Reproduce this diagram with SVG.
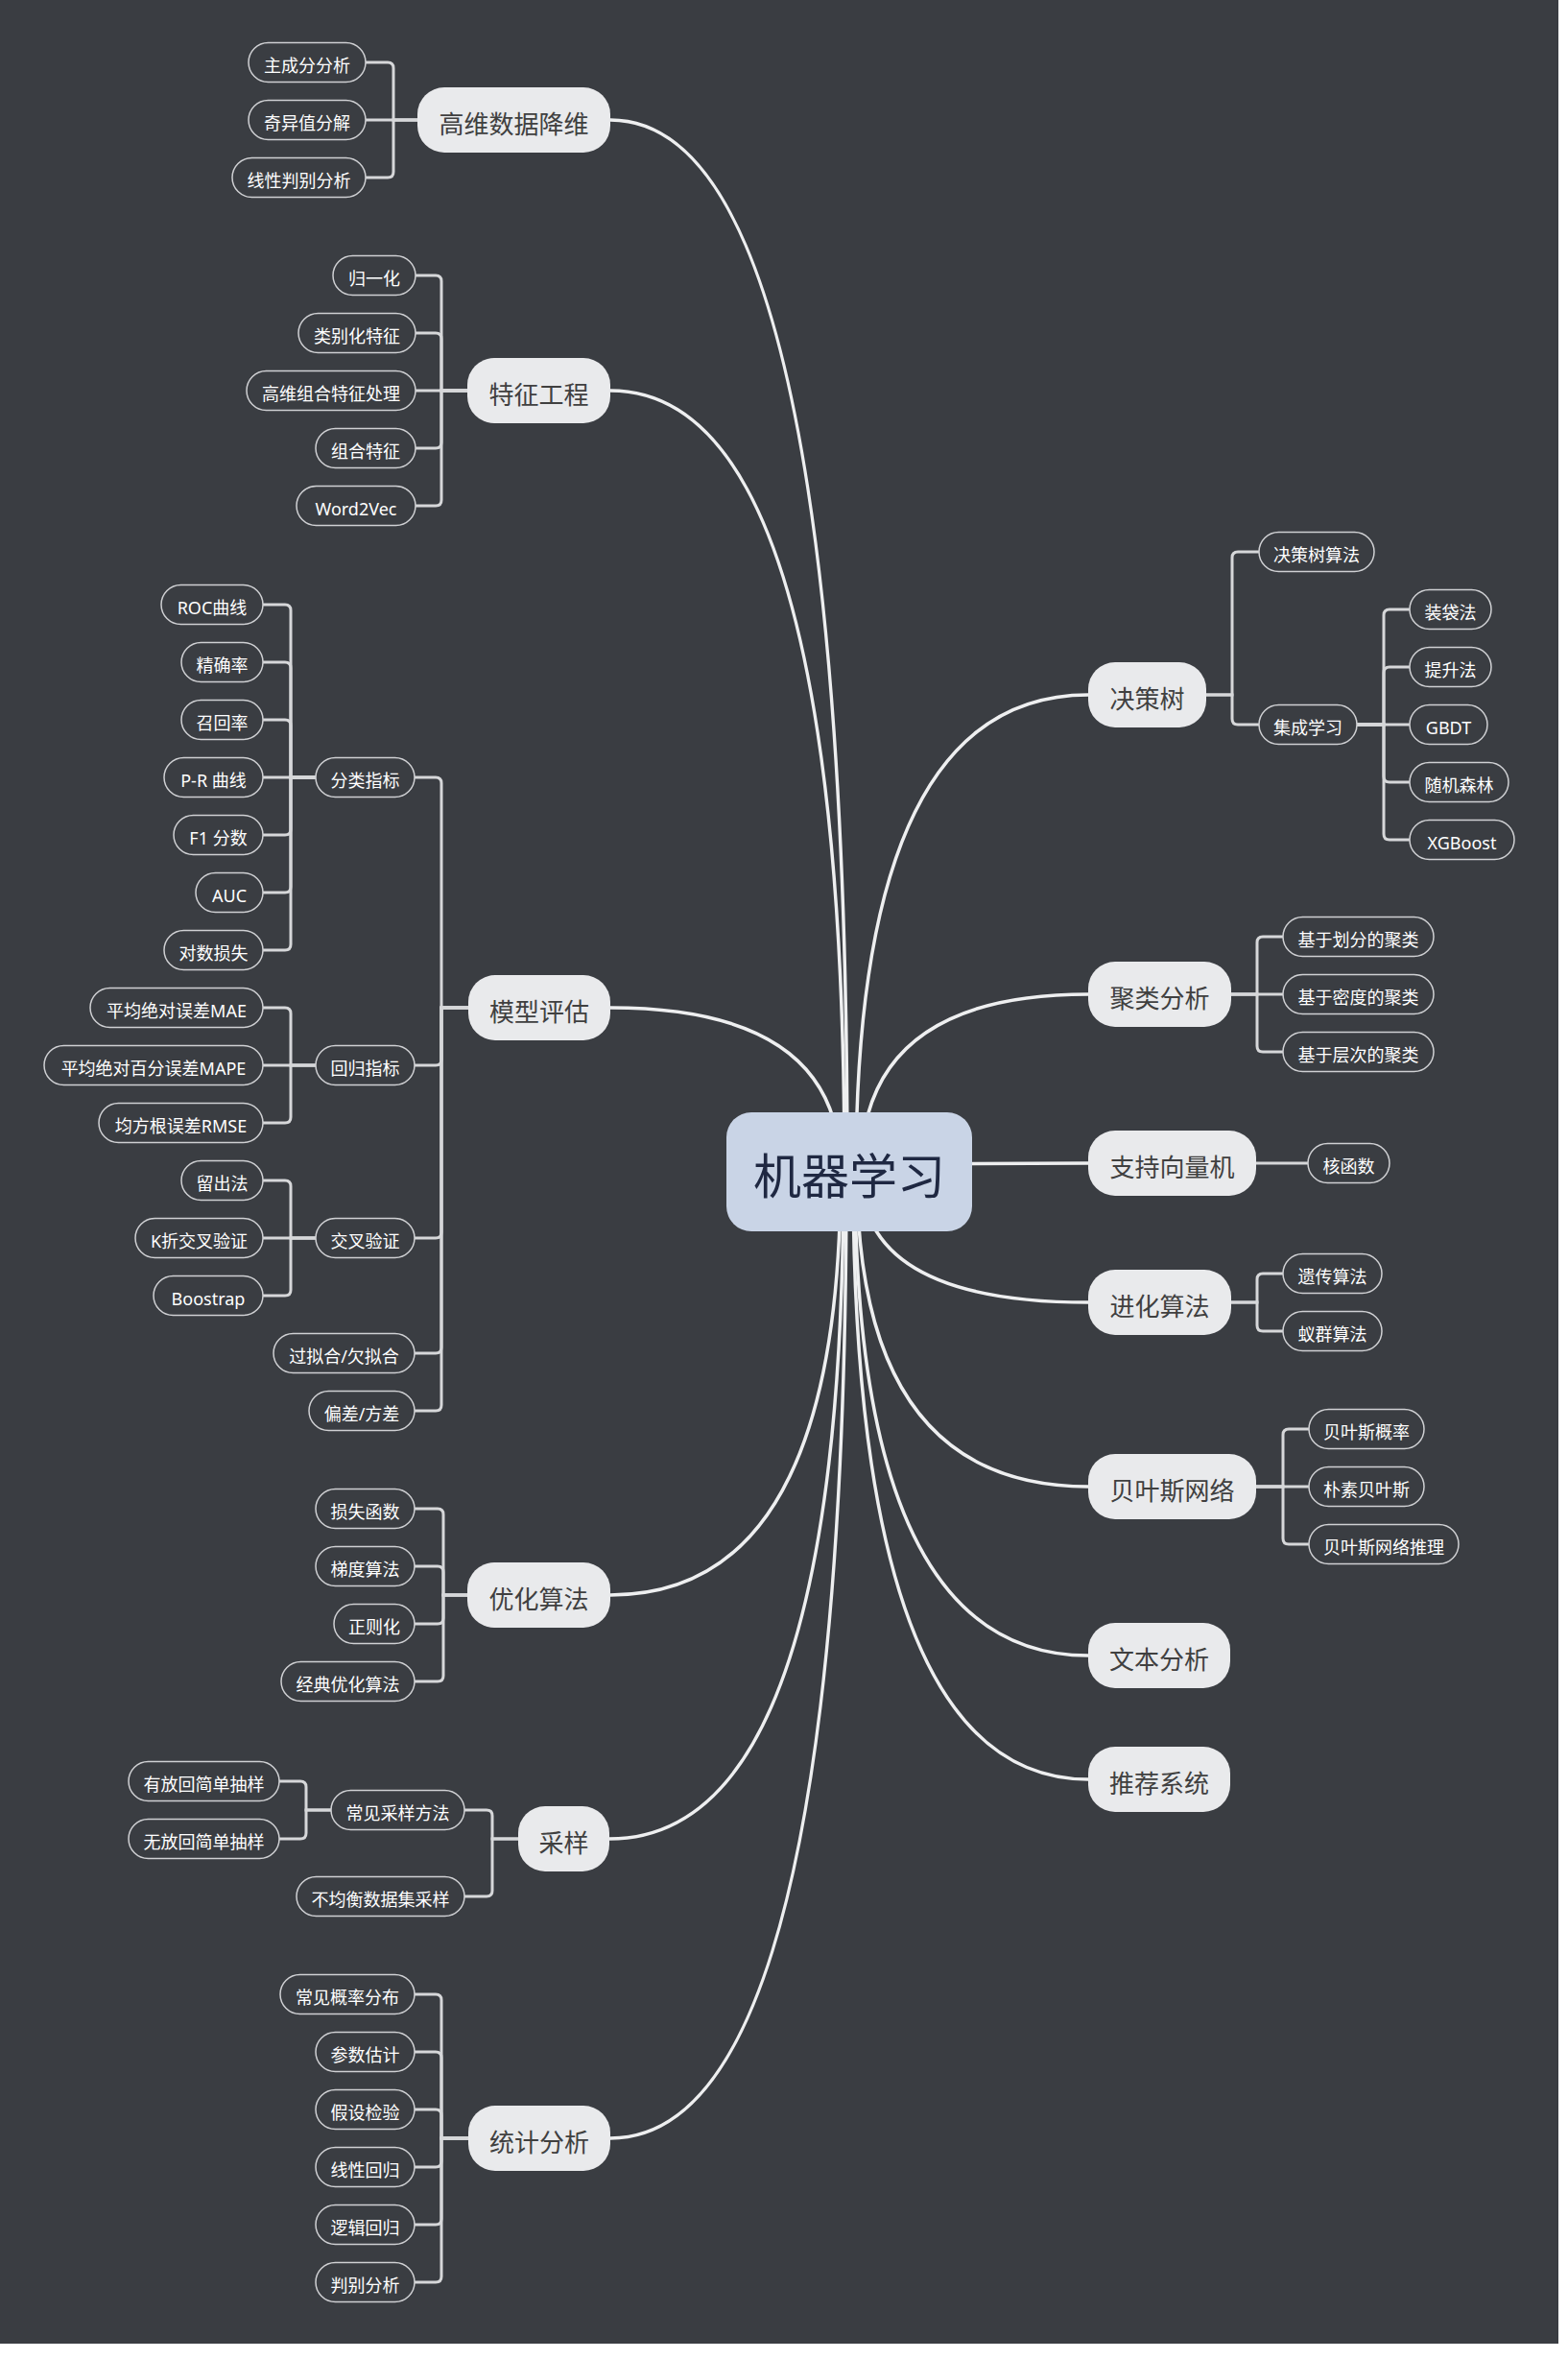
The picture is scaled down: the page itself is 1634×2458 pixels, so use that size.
<svg xmlns="http://www.w3.org/2000/svg" width="1634" height="2458" viewBox="0 0 1634 2458">
  <style>
    text { font-family: "Noto Sans", "Noto Sans CJK SC", sans-serif; text-anchor: middle; dominant-baseline: central; }
    .root rect { fill: #c9d4e6; }
    .root text { fill: #1f2842; font-size: 50px; transform: translateY(3.5px); }
    .main rect { fill: #e9eaec; }
    .main text { fill: #404040; font-size: 26px; transform: translateY(3.5px); }
    .leaf rect { fill: none; stroke: #cfd0d3; stroke-width: 1.5; }
    .leaf text { fill: #ffffff; font-size: 18px; transform: translateY(3px); }
    .curve { fill: none; stroke: #eeeff0; stroke-width: 3.5; stroke-linecap: round; }
    .elbow { fill: none; stroke: #d6d7d9; stroke-width: 3; }
  </style>

  <rect x="0" y="0" width="1634" height="2458" fill="#ffffff"/>
  <rect x="0" y="0" width="1624" height="2442" fill="#3a3d42"/>

  <!-- connectors -->
  <g id="connectors">
    <!-- curves from the central topic -->
    <path class="curve" d="M636 125 Q883 125 883 1221"/>
    <path class="curve" d="M636 407 Q880 407 880 1221"/>
    <path class="curve" d="M636 1050 Q876 1050 876 1221"/>
    <path class="curve" d="M636 1662 Q876 1662 876 1221"/>
    <path class="curve" d="M635 1916 Q879 1916 879 1221"/>
    <path class="curve" d="M636 2228 Q882 2228 882 1221"/>
    <path class="curve" d="M1134 724 Q892 724 892 1221"/>
    <path class="curve" d="M1134 1036 Q897 1036 897 1221"/>
    <path class="curve" d="M885 1213 L1134 1212"/>
    <path class="curve" d="M1134 1357 Q897 1357 897 1221"/>
    <path class="curve" d="M1134 1549 Q893 1549 893 1221"/>
    <path class="curve" d="M1134 1725 Q891 1725 891 1221"/>
    <path class="curve" d="M1134 1854 Q889 1854 889 1221"/>

    <!-- 高维数据降维 -->
    <path class="elbow" d="M435 125 H410 V71 Q410 65 404 65 H381"/>
    <path class="elbow" d="M435 125 H381"/>
    <path class="elbow" d="M435 125 H410 V179 Q410 185 404 185 H381"/>

    <!-- 特征工程 -->
    <path class="elbow" d="M487 407 H460 V293 Q460 287 454 287 H433"/>
    <path class="elbow" d="M487 407 H460 V353 Q460 347 454 347 H433"/>
    <path class="elbow" d="M487 407 H433"/>
    <path class="elbow" d="M487 407 H460 V461 Q460 467 454 467 H433"/>
    <path class="elbow" d="M487 407 H460 V521 Q460 527 454 527 H433"/>

    <!-- 模型评估 -->
    <path class="elbow" d="M488 1050 H460 V816 Q460 810 454 810 H432"/>
    <path class="elbow" d="M488 1050 H460 V1104 Q460 1110 454 1110 H432"/>
    <path class="elbow" d="M488 1050 H460 V1284 Q460 1290 454 1290 H432"/>
    <path class="elbow" d="M488 1050 H460 V1404 Q460 1410 454 1410 H432"/>
    <path class="elbow" d="M488 1050 H460 V1464 Q460 1470 454 1470 H432"/>

    <!-- 分类指标 -->
    <path class="elbow" d="M329 810 H303 V636 Q303 630 297 630 H274"/>
    <path class="elbow" d="M329 810 H303 V696 Q303 690 297 690 H274"/>
    <path class="elbow" d="M329 810 H303 V756 Q303 750 297 750 H274"/>
    <path class="elbow" d="M329 810 H274"/>
    <path class="elbow" d="M329 810 H303 V864 Q303 870 297 870 H274"/>
    <path class="elbow" d="M329 810 H303 V924 Q303 930 297 930 H274"/>
    <path class="elbow" d="M329 810 H303 V984 Q303 990 297 990 H274"/>

    <!-- 回归指标 -->
    <path class="elbow" d="M329 1110 H303 V1056 Q303 1050 297 1050 H274"/>
    <path class="elbow" d="M329 1110 H274"/>
    <path class="elbow" d="M329 1110 H303 V1164 Q303 1170 297 1170 H274"/>

    <!-- 交叉验证 -->
    <path class="elbow" d="M329 1290 H303 V1236 Q303 1230 297 1230 H274"/>
    <path class="elbow" d="M329 1290 H274"/>
    <path class="elbow" d="M329 1290 H303 V1344 Q303 1350 297 1350 H274"/>

    <!-- 优化算法 -->
    <path class="elbow" d="M487 1662 H462 V1578 Q462 1572 456 1572 H432"/>
    <path class="elbow" d="M487 1662 H462 V1638 Q462 1632 456 1632 H432"/>
    <path class="elbow" d="M487 1662 H462 V1686 Q462 1692 456 1692 H432"/>
    <path class="elbow" d="M487 1662 H462 V1746 Q462 1752 456 1752 H432"/>

    <!-- 采样 -->
    <path class="elbow" d="M540 1916 H513 V1892 Q513 1886 507 1886 H484"/>
    <path class="elbow" d="M540 1916 H513 V1970 Q513 1976 507 1976 H484"/>
    <path class="elbow" d="M345 1886 H319 V1862 Q319 1856 313 1856 H291"/>
    <path class="elbow" d="M345 1886 H319 V1910 Q319 1916 313 1916 H291"/>

    <!-- 统计分析 -->
    <path class="elbow" d="M488 2228 H460 V2084 Q460 2078 454 2078 H432"/>
    <path class="elbow" d="M488 2228 H460 V2144 Q460 2138 454 2138 H432"/>
    <path class="elbow" d="M488 2228 H460 V2204 Q460 2198 454 2198 H432"/>
    <path class="elbow" d="M488 2228 H460 V2252 Q460 2258 454 2258 H432"/>
    <path class="elbow" d="M488 2228 H460 V2312 Q460 2318 454 2318 H432"/>
    <path class="elbow" d="M488 2228 H460 V2372 Q460 2378 454 2378 H432"/>

    <!-- 决策树 -->
    <path class="elbow" d="M1257 724 H1284 V581 Q1284 575 1290 575 H1312"/>
    <path class="elbow" d="M1257 724 H1284 V749 Q1284 755 1290 755 H1312"/>
    <path class="elbow" d="M1414 755 H1442 V641 Q1442 635 1448 635 H1469"/>
    <path class="elbow" d="M1414 755 H1442 V701 Q1442 695 1448 695 H1469"/>
    <path class="elbow" d="M1414 755 H1469"/>
    <path class="elbow" d="M1414 755 H1442 V809 Q1442 815 1448 815 H1469"/>
    <path class="elbow" d="M1414 755 H1442 V869 Q1442 875 1448 875 H1469"/>

    <!-- 聚类分析 -->
    <path class="elbow" d="M1283 1036 H1310 V982 Q1310 976 1316 976 H1337"/>
    <path class="elbow" d="M1283 1036 H1337"/>
    <path class="elbow" d="M1283 1036 H1310 V1090 Q1310 1096 1316 1096 H1337"/>

    <!-- 支持向量机 -->
    <path class="elbow" d="M1309 1212 H1363"/>

    <!-- 进化算法 -->
    <path class="elbow" d="M1283 1357 H1310 V1333 Q1310 1327 1316 1327 H1337"/>
    <path class="elbow" d="M1283 1357 H1310 V1381 Q1310 1387 1316 1387 H1337"/>

    <!-- 贝叶斯网络 -->
    <path class="elbow" d="M1309 1549 H1337 V1495 Q1337 1489 1343 1489 H1364"/>
    <path class="elbow" d="M1309 1549 H1364"/>
    <path class="elbow" d="M1309 1549 H1337 V1603 Q1337 1609 1343 1609 H1364"/>
  </g>

  <!-- central topic -->
  <g id="root" class="root">
    <rect x="757" y="1159" width="256" height="124" rx="26"/>
    <text x="885" y="1221">机器学习</text>
  </g>

  <!-- main topics -->
  <g id="n-gaowei" class="main"><rect x="435" y="91" width="201" height="68" rx="28"/><text x="535.5" y="125">高维数据降维</text></g>
  <g id="n-tezheng" class="main"><rect x="487" y="373" width="149" height="68" rx="28"/><text x="561.5" y="407">特征工程</text></g>
  <g id="n-moxing" class="main"><rect x="488" y="1016" width="148" height="68" rx="28"/><text x="562" y="1050">模型评估</text></g>
  <g id="n-youhua" class="main"><rect x="487" y="1628" width="149" height="68" rx="28"/><text x="561.5" y="1662">优化算法</text></g>
  <g id="n-caiyang" class="main"><rect x="540" y="1882" width="95" height="68" rx="28"/><text x="587.5" y="1916">采样</text></g>
  <g id="n-tongji" class="main"><rect x="488" y="2194" width="148" height="68" rx="28"/><text x="562" y="2228">统计分析</text></g>
  <g id="n-jueceshu" class="main"><rect x="1134" y="690" width="123" height="68" rx="28"/><text x="1195.5" y="724">决策树</text></g>
  <g id="n-julei" class="main"><rect x="1134" y="1002" width="149" height="68" rx="28"/><text x="1208.5" y="1036">聚类分析</text></g>
  <g id="n-svm" class="main"><rect x="1134" y="1178" width="175" height="68" rx="28"/><text x="1221.5" y="1212">支持向量机</text></g>
  <g id="n-jinhua" class="main"><rect x="1134" y="1323" width="149" height="68" rx="28"/><text x="1208.5" y="1357">进化算法</text></g>
  <g id="n-beiyesi" class="main"><rect x="1134" y="1515" width="175" height="68" rx="28"/><text x="1221.5" y="1549">贝叶斯网络</text></g>
  <g id="n-wenben" class="main"><rect x="1134" y="1691" width="148" height="68" rx="28"/><text x="1208" y="1725">文本分析</text></g>
  <g id="n-tuijian" class="main"><rect x="1134" y="1820" width="148" height="68" rx="28"/><text x="1208" y="1854">推荐系统</text></g>

  <!-- subtopics -->
  <g id="l-pca" class="leaf"><rect x="259" y="44.5" width="122" height="41" rx="20.5"/><text x="320" y="65">主成分分析</text></g>
  <g id="l-svd" class="leaf"><rect x="259" y="104.5" width="122" height="41" rx="20.5"/><text x="320" y="125">奇异值分解</text></g>
  <g id="l-lda" class="leaf"><rect x="242" y="164.5" width="139" height="41" rx="20.5"/><text x="311.5" y="185">线性判别分析</text></g>

  <g id="l-norm" class="leaf"><rect x="347" y="266.5" width="86" height="41" rx="20.5"/><text x="390" y="287">归一化</text></g>
  <g id="l-cat" class="leaf"><rect x="311" y="326.5" width="122" height="41" rx="20.5"/><text x="372" y="347">类别化特征</text></g>
  <g id="l-highcomb" class="leaf"><rect x="257" y="386.5" width="176" height="41" rx="20.5"/><text x="345" y="407">高维组合特征处理</text></g>
  <g id="l-comb" class="leaf"><rect x="329" y="446.5" width="104" height="41" rx="20.5"/><text x="381" y="467">组合特征</text></g>
  <g id="l-w2v" class="leaf"><rect x="309" y="506.5" width="124" height="41" rx="20.5"/><text x="371" y="527">Word2Vec</text></g>

  <g id="l-cls" class="leaf"><rect x="329" y="789.5" width="103" height="41" rx="20.5"/><text x="380.5" y="810">分类指标</text></g>
  <g id="l-reg" class="leaf"><rect x="329" y="1089.5" width="103" height="41" rx="20.5"/><text x="380.5" y="1110">回归指标</text></g>
  <g id="l-cv" class="leaf"><rect x="329" y="1269.5" width="103" height="41" rx="20.5"/><text x="380.5" y="1290">交叉验证</text></g>
  <g id="l-fit" class="leaf"><rect x="285" y="1389.5" width="147" height="41" rx="20.5"/><text x="358.5" y="1410">过拟合/欠拟合</text></g>
  <g id="l-bias" class="leaf"><rect x="322" y="1449.5" width="110" height="41" rx="20.5"/><text x="377" y="1470">偏差/方差</text></g>

  <g id="l-roc" class="leaf"><rect x="168" y="609.5" width="106" height="41" rx="20.5"/><text x="221" y="630">ROC曲线</text></g>
  <g id="l-prec" class="leaf"><rect x="189" y="669.5" width="85" height="41" rx="20.5"/><text x="231.5" y="690">精确率</text></g>
  <g id="l-rec" class="leaf"><rect x="189" y="729.5" width="85" height="41" rx="20.5"/><text x="231.5" y="750">召回率</text></g>
  <g id="l-pr" class="leaf"><rect x="171" y="789.5" width="103" height="41" rx="20.5"/><text x="222.5" y="810">P-R 曲线</text></g>
  <g id="l-f1" class="leaf"><rect x="181" y="849.5" width="93" height="41" rx="20.5"/><text x="227.5" y="870">F1 分数</text></g>
  <g id="l-auc" class="leaf"><rect x="204" y="909.5" width="70" height="41" rx="20.5"/><text x="239" y="930">AUC</text></g>
  <g id="l-logloss" class="leaf"><rect x="171" y="969.5" width="103" height="41" rx="20.5"/><text x="222.5" y="990">对数损失</text></g>

  <g id="l-mae" class="leaf"><rect x="94" y="1029.5" width="180" height="41" rx="20.5"/><text x="184" y="1050">平均绝对误差MAE</text></g>
  <g id="l-mape" class="leaf"><rect x="46" y="1089.5" width="228" height="41" rx="20.5"/><text x="160" y="1110">平均绝对百分误差MAPE</text></g>
  <g id="l-rmse" class="leaf"><rect x="103" y="1149.5" width="171" height="41" rx="20.5"/><text x="188.5" y="1170">均方根误差RMSE</text></g>

  <g id="l-holdout" class="leaf"><rect x="189" y="1209.5" width="85" height="41" rx="20.5"/><text x="231.5" y="1230">留出法</text></g>
  <g id="l-kfold" class="leaf"><rect x="141" y="1269.5" width="133" height="41" rx="20.5"/><text x="207.5" y="1290">K折交叉验证</text></g>
  <g id="l-boot" class="leaf"><rect x="160" y="1329.5" width="114" height="41" rx="20.5"/><text x="217" y="1350">Boostrap</text></g>

  <g id="l-loss" class="leaf"><rect x="329" y="1551.5" width="103" height="41" rx="20.5"/><text x="380.5" y="1572">损失函数</text></g>
  <g id="l-grad" class="leaf"><rect x="329" y="1611.5" width="103" height="41" rx="20.5"/><text x="380.5" y="1632">梯度算法</text></g>
  <g id="l-regu" class="leaf"><rect x="348" y="1671.5" width="84" height="41" rx="20.5"/><text x="390" y="1692">正则化</text></g>
  <g id="l-classic" class="leaf"><rect x="293" y="1731.5" width="139" height="41" rx="20.5"/><text x="362.5" y="1752">经典优化算法</text></g>

  <g id="l-common" class="leaf"><rect x="345" y="1865.5" width="139" height="41" rx="20.5"/><text x="414.5" y="1886">常见采样方法</text></g>
  <g id="l-imb" class="leaf"><rect x="309" y="1955.5" width="175" height="41" rx="20.5"/><text x="396.5" y="1976">不均衡数据集采样</text></g>
  <g id="l-withrep" class="leaf"><rect x="134" y="1835.5" width="157" height="41" rx="20.5"/><text x="212.5" y="1856">有放回简单抽样</text></g>
  <g id="l-worep" class="leaf"><rect x="134" y="1895.5" width="157" height="41" rx="20.5"/><text x="212.5" y="1916">无放回简单抽样</text></g>

  <g id="l-dist" class="leaf"><rect x="292" y="2057.5" width="140" height="41" rx="20.5"/><text x="362" y="2078">常见概率分布</text></g>
  <g id="l-est" class="leaf"><rect x="329" y="2117.5" width="103" height="41" rx="20.5"/><text x="380.5" y="2138">参数估计</text></g>
  <g id="l-test" class="leaf"><rect x="329" y="2177.5" width="103" height="41" rx="20.5"/><text x="380.5" y="2198">假设检验</text></g>
  <g id="l-linreg" class="leaf"><rect x="329" y="2237.5" width="103" height="41" rx="20.5"/><text x="380.5" y="2258">线性回归</text></g>
  <g id="l-logreg" class="leaf"><rect x="329" y="2297.5" width="103" height="41" rx="20.5"/><text x="380.5" y="2318">逻辑回归</text></g>
  <g id="l-disc" class="leaf"><rect x="329" y="2357.5" width="103" height="41" rx="20.5"/><text x="380.5" y="2378">判别分析</text></g>

  <g id="l-dtalg" class="leaf"><rect x="1312" y="554.5" width="120" height="41" rx="20.5"/><text x="1372" y="575">决策树算法</text></g>
  <g id="l-ens" class="leaf"><rect x="1312" y="734.5" width="102" height="41" rx="20.5"/><text x="1363" y="755">集成学习</text></g>
  <g id="l-bag" class="leaf"><rect x="1469" y="614.5" width="85" height="41" rx="20.5"/><text x="1511.5" y="635">装袋法</text></g>
  <g id="l-boost" class="leaf"><rect x="1469" y="674.5" width="85" height="41" rx="20.5"/><text x="1511.5" y="695">提升法</text></g>
  <g id="l-gbdt" class="leaf"><rect x="1469" y="734.5" width="81" height="41" rx="20.5"/><text x="1509.5" y="755">GBDT</text></g>
  <g id="l-rf" class="leaf"><rect x="1469" y="794.5" width="103" height="41" rx="20.5"/><text x="1520.5" y="815">随机森林</text></g>
  <g id="l-xgb" class="leaf"><rect x="1469" y="854.5" width="109" height="41" rx="20.5"/><text x="1523.5" y="875">XGBoost</text></g>

  <g id="l-part" class="leaf"><rect x="1337" y="955.5" width="157" height="41" rx="20.5"/><text x="1415.5" y="976">基于划分的聚类</text></g>
  <g id="l-dens" class="leaf"><rect x="1337" y="1015.5" width="157" height="41" rx="20.5"/><text x="1415.5" y="1036">基于密度的聚类</text></g>
  <g id="l-hier" class="leaf"><rect x="1337" y="1075.5" width="157" height="41" rx="20.5"/><text x="1415.5" y="1096">基于层次的聚类</text></g>

  <g id="l-kernel" class="leaf"><rect x="1363" y="1191.5" width="85" height="41" rx="20.5"/><text x="1405.5" y="1212">核函数</text></g>

  <g id="l-ga" class="leaf"><rect x="1337" y="1306.5" width="103" height="41" rx="20.5"/><text x="1388.5" y="1327">遗传算法</text></g>
  <g id="l-aco" class="leaf"><rect x="1337" y="1366.5" width="103" height="41" rx="20.5"/><text x="1388.5" y="1387">蚁群算法</text></g>

  <g id="l-bprob" class="leaf"><rect x="1364" y="1468.5" width="120" height="41" rx="20.5"/><text x="1424" y="1489">贝叶斯概率</text></g>
  <g id="l-nb" class="leaf"><rect x="1364" y="1528.5" width="120" height="41" rx="20.5"/><text x="1424" y="1549">朴素贝叶斯</text></g>
  <g id="l-binf" class="leaf"><rect x="1364" y="1588.5" width="156" height="41" rx="20.5"/><text x="1442" y="1609">贝叶斯网络推理</text></g>
</svg>
